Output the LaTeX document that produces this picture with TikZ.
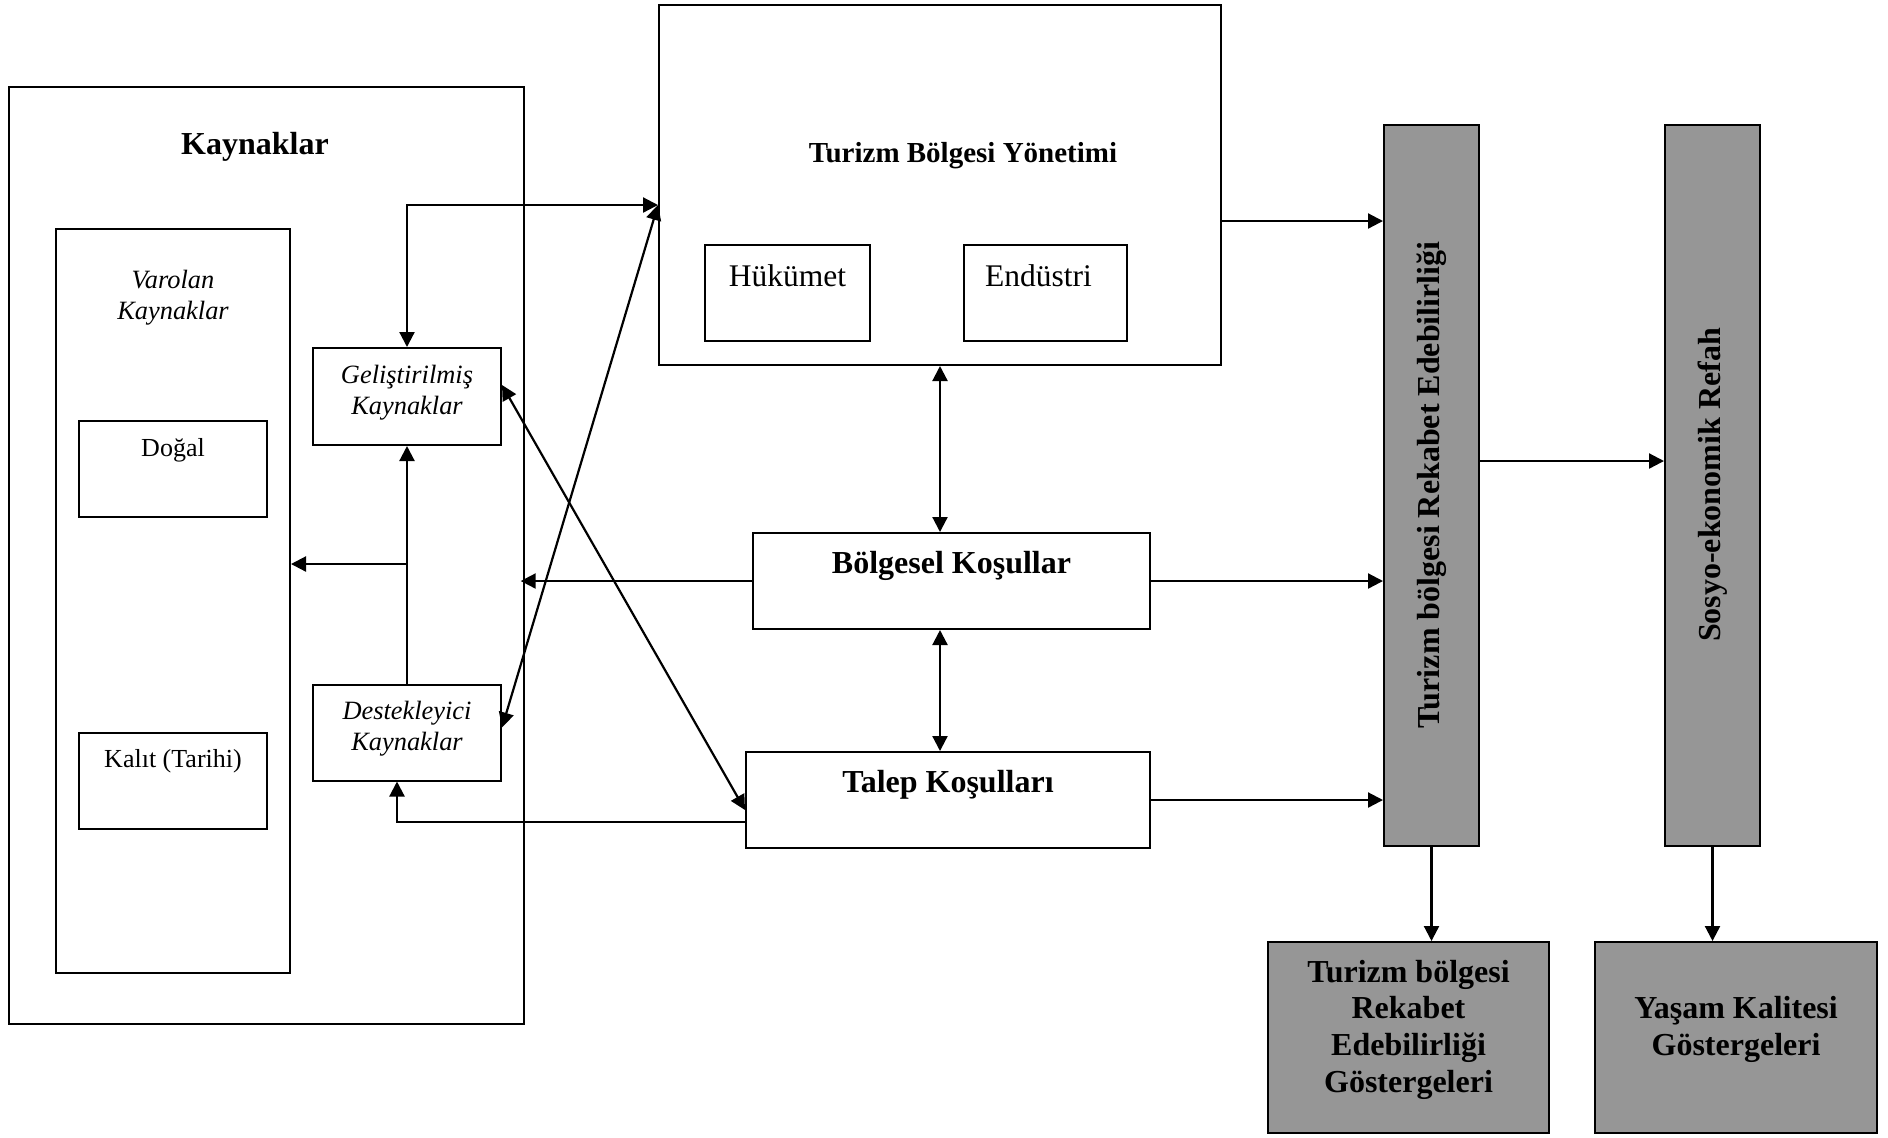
\documentclass[tikz,border=0pt]{standalone}
\usepackage{fontspec}
\setmainfont{Liberation Serif}
\usepackage{graphicx}
\usetikzlibrary{positioning, arrows.meta}
\definecolor{boxgray}{RGB}{150,150,150}
\tikzstyle{block}=[draw,rectangle,line width=1pt,inner sep=0pt]
\tikzstyle{grayblock}=[block,fill=boxgray]
\newcommand{\bbold}{\bfseries\fontsize{16}{18.35}\selectfont}
\newcommand{\itsmall}{\itshape\fontsize{13.2}{15.6}\selectfont}
\newcommand{\rmmid}{\fontsize{15.75}{18}\selectfont}
\newcommand{\rmsmall}{\fontsize{13}{15}\selectfont}
\newcommand{\altbosluk}[1]{\rule[-#1]{0pt}{#1}}

\begin{document}
\begin{tikzpicture}[x=.5pt,y=-.5pt,>={Triangle[length=7.5pt,width=7.5pt]},line width=1.1pt]
            \useasboundingbox (0,0) rectangle (1888,1137);
            % kaynaklar
            \node[block, line width=.7pt, minimum width=257.5pt, minimum height=468.5pt] (kaynak) at (266.5,555.5) {};
            \node[anchor=base, font=\bbold] (kaybaslik) at (255,154) {Kaynaklar};
            \node[block, minimum width=117pt, minimum height=372pt] (varolan) at (173,601) {};
            \node[align=center, font=\itsmall] (varbaslik) at (173,298) {Varolan\\Kaynaklar};
            \node[block, minimum width=94pt, text height=17.5pt, text depth=30.5pt, font=\rmsmall] (dogal) at (173,469) {Doğal};
            \node[block, below of=dogal, node distance=156pt, minimum width=94pt, text height=17pt, text depth=31pt, font=\rmsmall] (kalit) {Kalıt (Tarihi)};
            \node[block, minimum width=94pt, minimum height=48.5pt, align=center, font=\itsmall] (gelis) at (407,396.5) {Geliştirilmiş\\Kaynaklar\altbosluk{6.3pt}};
            \node[block, below of=gelis, node distance=168pt, minimum width=94pt, minimum height=48pt, align=center, font=\itsmall] (destek) {Destekleyici\\Kaynaklar\altbosluk{6.3pt}};
            % yonetim ve kosullar
            \node[block, minimum width=281pt, minimum height=180pt] (yonetim) at (940,185) {};
            \node[anchor=base, font=\bfseries\fontsize{14.5}{17}\selectfont] (yonbaslik) at (963,162) {Turizm Bölgesi Yönetimi};
            \node[block, minimum width=82.5pt, text height=20.5pt, text depth=27.5pt, font=\rmmid] (hukumet) at (787.5,293) {Hükümet};
            \node[block, right of=hukumet, node distance=129pt, minimum width=81.5pt, text height=20.5pt, text depth=27.5pt, font=\rmmid] (endustri) {Endüstri\kern7pt};
            \node[block, minimum width=198.5pt, text height=20pt, text depth=28pt, font=\bbold] (bolgesel) at (951.5,581) {Bölgesel Koşullar};
            \node[block, minimum width=202pt, text height=20pt, text depth=28pt, font=\bbold] (talep) at (948,800) {Talep Koşulları};
            % sonuclar
            \node[grayblock, minimum width=47.5pt, minimum height=360.5pt, font=\bbold] (rekabet) at (1431.5,485) {\rotatebox{90}{Turizm bölgesi Rekabet Edebilirliği}};
            \node[grayblock, right of=rekabet, node distance=140.5pt, minimum width=47.5pt, minimum height=360.5pt, font=\bbold] (refah) {\rotatebox{90}{Sosyo-ekonomik Refah}};
            \node[grayblock, minimum width=140.5pt, minimum height=95.5pt, align=center, font=\bbold] (rgoster) at (1408.5,1037.5) {Turizm bölgesi\\Rekabet\\Edebilirliği\\Göstergeleri\altbosluk{11.5pt}};
            \node[grayblock, minimum width=141pt, minimum height=95.5pt, align=center, font=\bbold] (yasam) at (1736,1037.5) {Yaşam Kalitesi\\Göstergeleri\altbosluk{11.5pt}};
            % oklar
            \draw[->] (yonetim.east |- 0,221) -- (rekabet.west |- 0,221);
            \draw[->] (bolgesel.east) -- (bolgesel.east -| rekabet.west);
            \draw[->] (talep.east) -- (talep.east -| rekabet.west);
            \draw[->] (rekabet.east |- 0,461) -- (refah.west |- 0,461);
            \draw[->] (rekabet.south) -- (rekabet.south |- rgoster.north);
            \draw[->] (refah.south) -- (refah.south |- yasam.north);
            \draw[<->] (yonetim.south) -- (yonetim.south |- bolgesel.north);
            \draw[<->] (yonetim.south |- bolgesel.south) -- (yonetim.south |- talep.north);
            \draw[->] (bolgesel.west) -- ([xshift=-2pt]bolgesel.west -| kaynak.east);
            \draw[<->] (yonetim.west |- 0,205) -| (gelis.north);
            \draw[<->] (yonetim.west |- 0,205) -- ([yshift=2.5pt]destek.east);
            \draw[<->] ([yshift=5.75pt]gelis.east) -- ([yshift=-5pt]talep.west);
            \draw[->] (talep.west |- 0,822) -| ([xshift=-5pt]destek.south);
            \draw[->] (destek.north) -- (gelis.south);
            \draw[->] (destek.north |- 0,564) -- (varolan.east |- 0,564);
        \end{tikzpicture}
\end{document}
